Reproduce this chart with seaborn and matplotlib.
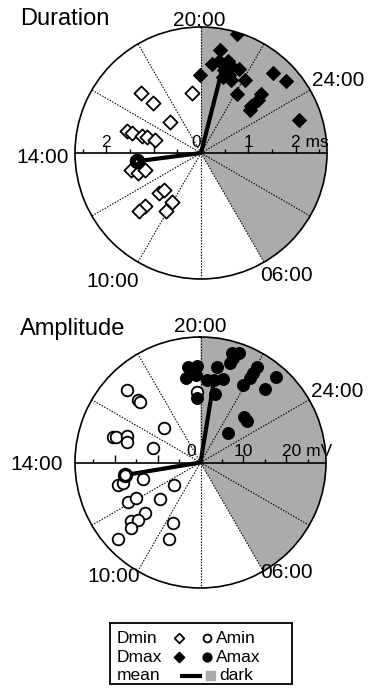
import numpy as np
import pandas as pd
import matplotlib
matplotlib.use("Agg")
import matplotlib.pyplot as plt
from matplotlib.patches import Rectangle
import seaborn as sns

# ---------------- data (clock hour, value) ----------------
dmax_hour = [21.13, 20.69, 20.47, 20.75, 21.07, 21.04, 21.27, 21.61, 21.33, 19.93, 22.07,
             22.81, 23.31, 22.10, 23.02, 23.12, 23.11, 23.27, 0.77, 21.07, 21.50]
dmax_ms = [2.62, 2.22, 1.90, 1.98, 2.03, 1.83, 1.94, 1.95, 1.76, 1.65, 1.81,
           2.28, 2.36, 1.45, 1.78, 1.64, 1.45, 1.38, 2.19, 1.66, 1.66]

dmin_hour = [17.00, 17.08, 19.41, 16.98, 15.10, 15.07, 15.10, 15.11, 15.05, 13.11, 12.83,
             12.89, 11.08, 11.00, 11.09, 11.11, 10.06, 10.08]
dmin_ms = [1.80, 1.46, 1.29, 0.92, 1.63, 1.51, 1.29, 1.20, 1.01, 1.52, 1.40,
           1.23, 1.22, 1.10, 1.63, 1.79, 1.21, 1.43]

dmean_hour = [13.51, 20.95]   # Dmin mean, Dmax mean
dmean_ms = [1.37, 1.82]

amax_hour = [21.06, 21.30, 21.17, 21.10, 20.64, 20.29, 20.62, 21.02, 22.03, 22.04, 22.03,
             21.93, 22.75, 22.76, 20.79, 19.77, 22.90, 23.21, 22.87, 19.51, 19.85, 19.35, 19.80]
amax_mv = [26.4, 27.1, 25.4, 24.1, 22.6, 19.2, 19.4, 20.1, 25.8, 24.1, 22.7,
           20.6, 26.6, 22.7, 16.4, 15.0, 14.7, 14.6, 9.5, 22.5, 22.5, 20.0, 20.4]

amin_hour = [16.98, 17.00, 17.00, 16.90, 15.09, 15.13, 15.32, 15.06, 15.11, 19.80, 12.98,
             12.99, 12.94, 11.31, 12.07, 12.07, 11.20, 11.17, 11.33, 11.15, 11.12, 11.14,
             9.64, 9.48]
amin_mv = [24.0, 20.6, 20.0, 11.7, 21.3, 20.6, 18.2, 17.7, 11.5, 16.5, 19.8,
           18.6, 14.0, 8.1, 19.2, 17.2, 12.7, 17.5, 21.1, 19.7, 22.2, 26.1,
           15.6, 19.2]

amean_hour = [13.37, 20.62]
amean_mv = [17.8, 19.3]

dark_hours = (20, 6)
clock_labels = ["20:00", "24:00", "06:00", "10:00", "14:00"]

# ---------------- style ----------------
sns.set_theme(style="white")
plt.rcParams["font.family"] = ["Liberation Sans", "DejaVu Sans"]
plt.rcParams["text.color"] = "black"

W, H = 368, 694
fig = plt.figure(figsize=(W / 100, H / 100), dpi=100)
GRAY = "#ababab"


def fx(px):
    return px / W


def fy(py):
    return 1 - py / H


def to_theta(h):
    return np.deg2rad(((np.asarray(h, dtype=float) - 20) % 24) * 15)


def panel(cx, cy, R, rmax, minor, major, tick_texts,
          min_h, min_v, max_h, max_v, mean_h, mean_v, marker, min_s, max_s,
          min_mean_style):
    rect = [fx(cx - R), fy(cy + R), 2 * R / W, 2 * R / H]
    ax = fig.add_axes(rect, projection="polar")
    ax.set_theta_zero_location("N")
    ax.set_theta_direction(-1)
    ax.grid(False)
    ax.set_xticks([])
    ax.set_yticks([])
    ax.spines["polar"].set_linewidth(1.2)
    ax.spines["polar"].set_color("black")
    ax.set_facecolor("white")

    # dark sector
    span = ((dark_hours[1] - dark_hours[0]) % 24) * 15
    ax.bar(to_theta(dark_hours[0]) + np.deg2rad(span / 2), rmax,
           width=np.deg2rad(span), bottom=0, color=GRAY, edgecolor="none",
           zorder=1)
    # dotted 2-hour radials
    for h in range(0, 24, 2):
        if h in (2, 14):
            continue
        th = to_theta(h)
        ax.plot([th, th], [0, rmax], ls=(0, (1.3, 1.3)), lw=0.8,
                color="black", zorder=1.5)

    dmin = pd.DataFrame({"theta": to_theta(min_h), "r": min_v})
    dmax = pd.DataFrame({"theta": to_theta(max_h), "r": max_v})
    sns.scatterplot(data=dmin, x="theta", y="r", ax=ax, marker=marker, s=min_s,
                    color="white", edgecolor="black", linewidth=1.3, zorder=3)
    sns.scatterplot(data=dmax, x="theta", y="r", ax=ax, marker=marker, s=max_s,
                    color="black", edgecolor="black", linewidth=0.8, zorder=3)

    mth = to_theta(mean_h)
    for th, r in zip(mth, mean_v):
        ax.plot([th, th], [0, r], color="black", lw=3.0,
                solid_capstyle="butt", zorder=4)
    if min_mean_style == "filled":
        ax.scatter([mth[0]], [mean_v[0]], s=105, color="black",
                   edgecolor="black", zorder=5)
        ax.scatter([mth[0]], [mean_v[0]], s=1.5, color="white",
                   edgecolor="none", zorder=6)
    else:
        ax.scatter([mth[0]], [mean_v[0]], s=75, facecolor="white",
                   edgecolor="black", linewidth=2.4, zorder=5)

    ax.set_xlabel("")
    ax.set_ylabel("")
    ax.set_ylim(0, rmax)

    # cartesian overlay for the horizontal scale axis
    axc = fig.add_axes(rect)
    axc.set_facecolor("none")
    axc.set_xlim(-rmax, rmax)
    axc.set_ylim(-rmax, rmax)
    for s in ("left", "right", "bottom"):
        axc.spines[s].set_visible(False)
    axc.spines["top"].set_position(("data", 0))
    axc.spines["top"].set_linewidth(1.2)
    axc.spines["top"].set_color("black")
    axc.xaxis.set_ticks_position("top")
    axc.set_xticks(major)
    axc.set_xticks(minor, minor=True)
    axc.tick_params(axis="x", which="major", direction="out", length=6,
                    width=1.0, color="black", labeltop=False, labelbottom=False)
    axc.tick_params(axis="x", which="minor", direction="out", length=3,
                    width=1.0, color="black", labeltop=False, labelbottom=False)
    axc.set_yticks([])
    for x, txt, dx, ha in tick_texts:
        axc.annotate(txt, xy=(x, 0), xytext=(dx, 2.5), textcoords="offset points",
                     ha=ha, va="bottom", fontsize=12.5, color="black")
    return ax


# Duration panel
panel(201, 153, 126, 2.66,
      minor=[-2.5, -1.5, -0.5, 0.5, 1.5, 2.5], major=[-2, -1, 1, 2],
      tick_texts=[(0, "0", 0, "right"), (1, "1", 0, "center"),
                  (2, "2 ms", -3.5, "left"), (-2, "2", 0, "center")],
      min_h=dmin_hour, min_v=dmin_ms, max_h=dmax_hour, max_v=dmax_ms,
      mean_h=dmean_hour, mean_v=dmean_ms, marker="D", min_s=52, max_s=50,
      min_mean_style="filled")

# Amplitude panel
panel(200.5, 462.5, 125.5, 29.2,
      minor=[-25, -15, -5, 5, 15, 25], major=[-20, -10, 10, 20],
      tick_texts=[(0, "0", -3.5, "right"), (10, "10", 0, "center"),
                  (20, "20 mV", -3.5, "left")],
      min_h=amin_hour, min_v=amin_mv, max_h=amax_hour, max_v=amax_mv,
      mean_h=amean_hour, mean_v=amean_mv, marker="o", min_s=70, max_s=72,
      min_mean_style="open")

# titles and clock labels
fig.text(fx(20), fy(25), "Duration", fontsize=17, ha="left", va="baseline")
fig.text(fx(20), fy(335), "Amplitude", fontsize=17, ha="left", va="baseline")

top_pos = [(199, 26), (338, 86), (286.5, 281), (112.5, 286.5), (43, 163)]
bot_pos = [(200, 332), (337, 397), (286.5, 578), (114, 581.5), (37, 470.5)]
for lab, (x, y) in zip(clock_labels, top_pos):
    fig.text(fx(x), fy(y), lab, fontsize=15, ha="center", va="baseline")
for lab, (x, y) in zip(clock_labels, bot_pos):
    fig.text(fx(x), fy(y), lab, fontsize=15, ha="center", va="baseline")

# legend box (drawn in pixel units)
lx0, ly0, lw_, lh_ = 110, 623, 182, 61
axl = fig.add_axes([fx(lx0), fy(ly0 + lh_), lw_ / W, lh_ / H])
axl.set_xlim(0, lw_)
axl.set_ylim(lh_, 0)
axl.set_xticks([])
axl.set_yticks([])
axl.set_facecolor("white")
for s in axl.spines.values():
    s.set_linewidth(1.3)
    s.set_color("black")

rows_y = [15, 34, 53]
base_y = [20, 39, 57]
for txt, y in zip(["Dmin", "Dmax", "mean"], base_y):
    axl.text(7, y, txt, fontsize=12.5, ha="left", va="baseline")
for txt, y in zip(["Amin", "Amax"], base_y[:2]):
    axl.text(106, y, txt, fontsize=12.5, ha="left", va="baseline")
axl.text(109, base_y[2], "dark", fontsize=12.5, ha="left", va="baseline")
axl.scatter([69], [rows_y[0]], marker="D", s=24, facecolor="white",
            edgecolor="black", linewidth=1.3)
axl.scatter([97], [rows_y[0]], marker="o", s=32, facecolor="white",
            edgecolor="black", linewidth=1.3)
axl.scatter([69], [rows_y[1]], marker="D", s=28, color="black")
axl.scatter([97], [rows_y[1]], marker="o", s=40, color="black")
axl.plot([70, 92], [rows_y[2], rows_y[2]], color="black", lw=3,
         solid_capstyle="butt")
axl.add_patch(Rectangle((96, rows_y[2] - 5), 9, 9, color=GRAY))

fig.savefig("out.png", dpi=100)
